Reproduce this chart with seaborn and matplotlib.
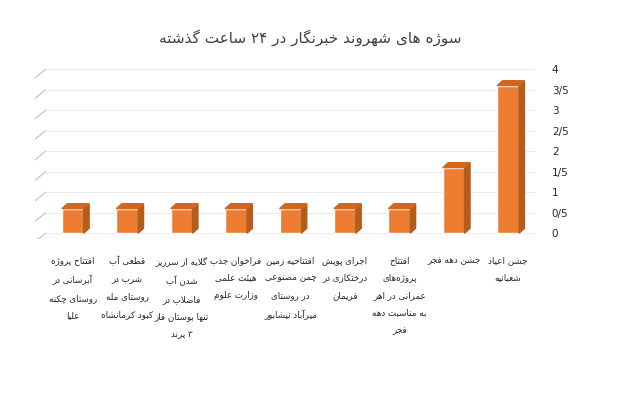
import matplotlib
matplotlib.use("Agg")
import matplotlib.pyplot as plt
from matplotlib.patches import Polygon
import seaborn as sns
import pandas as pd

# minimal Persian shaping (matplotlib does not join Arabic script)
FORMS = {
    "ا": (0xFE8D, 0xFE8E), "آ": (0xFE81, 0xFE82), "د": (0xFEA9, 0xFEAA),
    "ذ": (0xFEAB, 0xFEAC), "ر": (0xFEAD, 0xFEAE), "ز": (0xFEAF, 0xFEB0),
    "ژ": (0xFB8A, 0xFB8B), "و": (0xFEED, 0xFEEE),
    "ب": (0xFE8F, 0xFE90, 0xFE91, 0xFE92), "پ": (0xFB56, 0xFB57, 0xFB58, 0xFB59),
    "ت": (0xFE95, 0xFE96, 0xFE97, 0xFE98), "ث": (0xFE99, 0xFE9A, 0xFE9B, 0xFE9C),
    "ج": (0xFE9D, 0xFE9E, 0xFE9F, 0xFEA0), "چ": (0xFB7A, 0xFB7B, 0xFB7C, 0xFB7D),
    "ح": (0xFEA1, 0xFEA2, 0xFEA3, 0xFEA4), "خ": (0xFEA5, 0xFEA6, 0xFEA7, 0xFEA8),
    "س": (0xFEB1, 0xFEB2, 0xFEB3, 0xFEB4), "ش": (0xFEB5, 0xFEB6, 0xFEB7, 0xFEB8),
    "ص": (0xFEB9, 0xFEBA, 0xFEBB, 0xFEBC), "ض": (0xFEBD, 0xFEBE, 0xFEBF, 0xFEC0),
    "ط": (0xFEC1, 0xFEC2, 0xFEC3, 0xFEC4), "ظ": (0xFEC5, 0xFEC6, 0xFEC7, 0xFEC8),
    "ع": (0xFEC9, 0xFECA, 0xFECB, 0xFECC), "غ": (0xFECD, 0xFECE, 0xFECF, 0xFED0),
    "ف": (0xFED1, 0xFED2, 0xFED3, 0xFED4), "ق": (0xFED5, 0xFED6, 0xFED7, 0xFED8),
    "ک": (0xFB8E, 0xFB8F, 0xFB90, 0xFB91), "گ": (0xFB92, 0xFB93, 0xFB94, 0xFB95),
    "ل": (0xFEDD, 0xFEDE, 0xFEDF, 0xFEE0), "م": (0xFEE1, 0xFEE2, 0xFEE3, 0xFEE4),
    "ن": (0xFEE5, 0xFEE6, 0xFEE7, 0xFEE8), "ه": (0xFEE9, 0xFEEA, 0xFEEB, 0xFEEC),
    "ی": (0xFBFC, 0xFBFD, 0xFBFE, 0xFBFF), "ئ": (0xFE89, 0xFE8A, 0xFE8B, 0xFE8C),
}


def shape_word(w):
    w = w.replace("لا", "\uFEFB")
    out = []
    n = len(w)
    for i, c in enumerate(w):
        prev = w[i - 1] if i > 0 else None
        nxt = w[i + 1] if i < n - 1 else None
        jp = prev is not None and prev in FORMS and len(FORMS[prev]) == 4
        if c == "\uFEFB":
            out.append("\uFEFC" if jp else "\uFEFB")
            continue
        if c not in FORMS:
            out.append(c)
            continue
        f = FORMS[c]
        jn = len(f) == 4 and nxt is not None and (nxt in FORMS or nxt == "\uFEFB")
        if jp and jn:
            out.append(chr(f[3]))
        elif jp:
            out.append(chr(f[1]))
        elif jn:
            out.append(chr(f[2]))
        else:
            out.append(chr(f[0]))
    s = "".join(out).replace("\u200c", "")
    if s and s[0] in "۰۱۲۳۴۵۶۷۸۹":
        return s
    return s[::-1]


def fa(text):
    lines = []
    for line in text.split("\n"):
        lines.append(" ".join(shape_word(w) for w in line.split(" ")[::-1]))
    return "\n".join(lines)


title = "سوژه های شهروند خبرنگار در ۲۴ ساعت گذشته"
labels = [
    "افتتاح پروژه\nآبرسانی در\nروستای چکنه\nعلیا",
    "قطعی آب\nشرب در\nروستای مله\nکبود کرمانشاه",
    "گلایه از سرریز\nشدن آب\nفاضلاب در\nتنها بوستان فاز\n۳ پرند",
    "فراخوان جذب\nهیئت علمی\nوزارت علوم",
    "افتتاحیه زمین\nچمن مصنوعی\nدر روستای\nمیرآباد نیشابور",
    "اجرای پویش\nدرختکاری در\nفریمان",
    "افتتاح\nپروژه\u200cهای\nعمرانی در اهر\nبه مناسبت دهه\nفجر",
    "جشن دهه فجر",
    "جشن اعیاد\nشعبانیه",
]
values = [0.6, 0.6, 0.6, 0.6, 0.6, 0.6, 0.6, 1.6, 3.6]
ticks = [0, 0.5, 1, 1.5, 2, 2.5, 3, 3.5, 4]
tick_labels = ["0", "0/5", "1", "1/5", "2", "2/5", "3", "3/5", "4"]

sns.set_style("white")
plt.rcParams["font.family"] = ["DejaVu Sans"]

df = pd.DataFrame({"label": [fa(l) for l in labels], "value": values})
fig = plt.figure(figsize=(6.2, 4.2), dpi=100)
ax = fig.add_axes([0.056, 0.43, 0.825, 0.415])
sns.barplot(data=df, x="label", y="value", color="#ED7D31", width=0.4,
            saturation=1, ax=ax, zorder=3)

ax.set_xlim(-0.7, len(values) - 0.3)
ax.set_ylim(-0.15, 4.1)
dx, dy = 0.1, 0.12
for t in ticks:
    ax.plot([-0.5, len(values) - 0.5], [t, t], color="#EBEBEB", lw=0.7, zorder=1)
    ax.plot([-0.7, -0.5], [t - dy * 1.8, t], color="#BFBFBF", lw=0.8, zorder=1)
for p in list(ax.patches):
    x0, w, h = p.get_x(), p.get_width(), p.get_height()
    side = Polygon([(x0 + w, 0), (x0 + w + dx, dy), (x0 + w + dx, h + dy), (x0 + w, h)],
                   closed=True, color="#B35C1C", zorder=3)
    top = Polygon([(x0, h), (x0 + dx, h + dy), (x0 + w + dx, h + dy), (x0 + w, h)],
                  closed=True, color="#D2661C", zorder=3)
    ax.add_patch(side)
    ax.add_patch(top)

ax.yaxis.tick_right()
ax.set_yticks(ticks)
ax.set_yticklabels(tick_labels, fontsize=7.5)
ax.tick_params(axis="y", length=0, pad=4)
ax.tick_params(axis="x", length=0, pad=12)
for lab in ax.get_xticklabels():
    lab.set_fontsize(6.3)
    lab.set_linespacing(2.2)
    lab.set_verticalalignment("top")
ax.set_xlabel("")
ax.set_ylabel("")
sns.despine(ax=ax, left=True, bottom=True, right=True, top=True)
fig.suptitle(fa(title), y=0.93, fontsize=11, color="#404040")

fig.savefig("out.png", dpi=100)
